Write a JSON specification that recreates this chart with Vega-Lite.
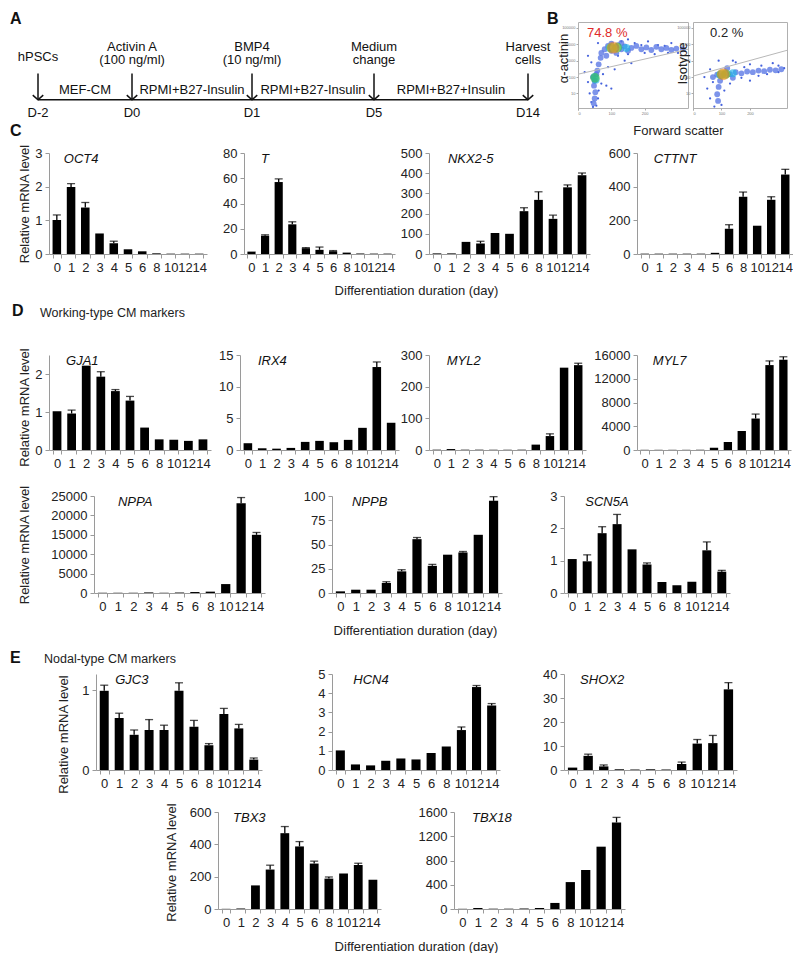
{
"$schema":"https://vega.github.io/schema/vega-lite/v6.json",
"autosize":{"type":"pad"},
"padding":{"left":10,"top":10,"right":0,"bottom":0},
"background":"white",
"config":{
 "font":"Liberation Sans",
 "numberFormat":"d",
 "view":{"stroke":null},
 "axis":{"grid":false,"domainColor":"#9a9a9a","tickColor":"#9a9a9a","tickSize":4,"labelFont":"Liberation Sans","labelFontSize":13,"labelColor":"#222","titleFont":"Liberation Sans","titleFontSize":13,"titleFontWeight":"normal","titleColor":"#222"},
 "axisX":{"labelAngle":0,"labelPadding":3,"tickBand":"extent","labelOverlap":false,"labelBound":false},
 "axisY":{"labelPadding":3,"labelOverlap":false,"titleAngle":270,"titleAlign":"center","titleBaseline":"middle"},
 "title":{"font":"Liberation Sans","fontWeight":"normal","fontSize":13,"color":"#222","anchor":"start","frame":"group"}
},
"datasets":{
 "timeline":[
  {"day":-2,"label":"D-2","agent":"hPSCs"},
  {"day":0,"label":"D0","agent":"Activin A","dose":"(100 ng/ml)"},
  {"day":1,"label":"D1","agent":"BMP4","dose":"(10 ng/ml)"},
  {"day":5,"label":"D5","agent":"Medium","dose":"change"},
  {"day":14,"label":"D14","agent":"Harvest","dose":"cells"}
 ],
 "media":[
  {"day":-1,"medium":"MEF-CM"},
  {"day":0.5,"medium":"RPMI+B27-Insulin"},
  {"day":3,"medium":"RPMI+B27-Insulin"},
  {"day":9.5,"medium":"RPMI+B27+Insulin"}
 ],
 "gates":[
  {"sample":"actinin","fsc_start":0,"sig_start":150,"fsc_end":330,"sig_end":5000,"percent":"74.8 %"},
  {"sample":"isotype","fsc_start":0,"sig_start":115,"fsc_end":330,"sig_end":4300,"percent":"0.2 %"}
 ],
 "facs":[
  {"sample":"actinin","fsc":70,"signal":3000,"level":1},{"sample":"actinin","fsc":80,"signal":5000,"level":1},{"sample":"actinin","fsc":90,"signal":8000,"level":1},{"sample":"actinin","fsc":100,"signal":4000,"level":1},{"sample":"actinin","fsc":110,"signal":6500,"level":1},{"sample":"actinin","fsc":120,"signal":9000,"level":1},{"sample":"actinin","fsc":130,"signal":5000,"level":1},{"sample":"actinin","fsc":140,"signal":7500,"level":1},{"sample":"actinin","fsc":150,"signal":4000,"level":1},{"sample":"actinin","fsc":160,"signal":6000,"level":1},{"sample":"actinin","fsc":175,"signal":8000,"level":1},{"sample":"actinin","fsc":190,"signal":5000,"level":1},{"sample":"actinin","fsc":205,"signal":6500,"level":1},{"sample":"actinin","fsc":220,"signal":4500,"level":1},{"sample":"actinin","fsc":235,"signal":7000,"level":1},{"sample":"actinin","fsc":250,"signal":5000,"level":1},{"sample":"actinin","fsc":265,"signal":6000,"level":1},{"sample":"actinin","fsc":280,"signal":4500,"level":1},{"sample":"actinin","fsc":295,"signal":5500,"level":1},{"sample":"actinin","fsc":315,"signal":5000,"level":1},{"sample":"actinin","fsc":100,"signal":11000,"level":1},{"sample":"actinin","fsc":130,"signal":12000,"level":1},{"sample":"actinin","fsc":85,"signal":2000,"level":1},{"sample":"actinin","fsc":115,"signal":3000,"level":1},
  {"sample":"actinin","fsc":45,"signal":100,"level":1},{"sample":"actinin","fsc":55,"signal":150,"level":1},{"sample":"actinin","fsc":50,"signal":60,"level":1},{"sample":"actinin","fsc":58,"signal":250,"level":1},{"sample":"actinin","fsc":48,"signal":30,"level":1},{"sample":"actinin","fsc":52,"signal":12,"level":1},{"sample":"actinin","fsc":50,"signal":5,"level":1},{"sample":"actinin","fsc":47,"signal":2.5,"level":1},{"sample":"actinin","fsc":62,"signal":600,"level":1},{"sample":"actinin","fsc":68,"signal":1500,"level":1},
  {"sample":"actinin","fsc":95,"signal":6000,"level":2},{"sample":"actinin","fsc":120,"signal":6500,"level":2},{"sample":"actinin","fsc":145,"signal":6000,"level":2},{"sample":"actinin","fsc":50,"signal":100,"level":2},{"sample":"actinin","fsc":53,"signal":70,"level":2},
  {"sample":"actinin","fsc":100,"signal":6000,"level":3},{"sample":"actinin","fsc":118,"signal":6300,"level":3},{"sample":"actinin","fsc":51,"signal":90,"level":3},
  {"sample":"actinin","fsc":102,"signal":6100,"level":4},{"sample":"actinin","fsc":112,"signal":6200,"level":4},
  {"sample":"actinin","fsc":106,"signal":6200,"level":5},
  {"sample":"actinin","fsc":150,"signal":2500,"level":0},{"sample":"actinin","fsc":200,"signal":3000,"level":0},{"sample":"actinin","fsc":240,"signal":9000,"level":0},{"sample":"actinin","fsc":280,"signal":12000,"level":0},{"sample":"actinin","fsc":300,"signal":3000,"level":0},{"sample":"actinin","fsc":170,"signal":12000,"level":0},{"sample":"actinin","fsc":210,"signal":15000,"level":0},{"sample":"actinin","fsc":130,"signal":15000,"level":0},{"sample":"actinin","fsc":30,"signal":2000,"level":0},{"sample":"actinin","fsc":40,"signal":800,"level":0},{"sample":"actinin","fsc":90,"signal":400,"level":0},{"sample":"actinin","fsc":110,"signal":300,"level":0},{"sample":"actinin","fsc":75,"signal":150,"level":0},{"sample":"actinin","fsc":30,"signal":50,"level":0},{"sample":"actinin","fsc":35,"signal":10,"level":0},{"sample":"actinin","fsc":60,"signal":5,"level":0},{"sample":"actinin","fsc":62,"signal":15,"level":0},{"sample":"actinin","fsc":40,"signal":3,"level":0},{"sample":"actinin","fsc":55,"signal":1.8,"level":0},{"sample":"actinin","fsc":140,"signal":1000,"level":0},{"sample":"actinin","fsc":160,"signal":700,"level":0},{"sample":"actinin","fsc":120,"signal":2000,"level":0},{"sample":"actinin","fsc":260,"signal":8000,"level":0},{"sample":"actinin","fsc":230,"signal":2500,"level":0},{"sample":"actinin","fsc":310,"signal":6000,"level":0},{"sample":"actinin","fsc":20,"signal":200,"level":0},{"sample":"actinin","fsc":85,"signal":30,"level":0},{"sample":"actinin","fsc":45,"signal":1.5,"level":0},{"sample":"actinin","fsc":70,"signal":40,"level":0},{"sample":"actinin","fsc":100,"signal":20,"level":0},{"sample":"actinin","fsc":320,"signal":4000,"level":0},{"sample":"actinin","fsc":270,"signal":3000,"level":0},{"sample":"actinin","fsc":190,"signal":9000,"level":0},{"sample":"actinin","fsc":150,"signal":20000,"level":0},{"sample":"actinin","fsc":60,"signal":12000,"level":0},
  {"sample":"isotype","fsc":70,"signal":100,"level":1},{"sample":"isotype","fsc":85,"signal":140,"level":1},{"sample":"isotype","fsc":100,"signal":120,"level":1},{"sample":"isotype","fsc":115,"signal":170,"level":1},{"sample":"isotype","fsc":130,"signal":150,"level":1},{"sample":"isotype","fsc":150,"signal":200,"level":1},{"sample":"isotype","fsc":170,"signal":170,"level":1},{"sample":"isotype","fsc":190,"signal":220,"level":1},{"sample":"isotype","fsc":210,"signal":200,"level":1},{"sample":"isotype","fsc":230,"signal":250,"level":1},{"sample":"isotype","fsc":250,"signal":230,"level":1},{"sample":"isotype","fsc":270,"signal":280,"level":1},{"sample":"isotype","fsc":290,"signal":260,"level":1},{"sample":"isotype","fsc":310,"signal":300,"level":1},{"sample":"isotype","fsc":95,"signal":60,"level":1},{"sample":"isotype","fsc":90,"signal":25,"level":1},{"sample":"isotype","fsc":85,"signal":9,"level":1},{"sample":"isotype","fsc":88,"signal":3.5,"level":1},{"sample":"isotype","fsc":120,"signal":350,"level":1},{"sample":"isotype","fsc":140,"signal":90,"level":1},
  {"sample":"isotype","fsc":95,"signal":140,"level":2},{"sample":"isotype","fsc":115,"signal":150,"level":2},{"sample":"isotype","fsc":140,"signal":170,"level":2},
  {"sample":"isotype","fsc":100,"signal":145,"level":3},{"sample":"isotype","fsc":115,"signal":150,"level":3},
  {"sample":"isotype","fsc":103,"signal":148,"level":4},{"sample":"isotype","fsc":110,"signal":150,"level":4},
  {"sample":"isotype","fsc":106,"signal":150,"level":5},
  {"sample":"isotype","fsc":200,"signal":600,"level":0},{"sample":"isotype","fsc":240,"signal":500,"level":0},{"sample":"isotype","fsc":280,"signal":700,"level":0},{"sample":"isotype","fsc":300,"signal":200,"level":0},{"sample":"isotype","fsc":320,"signal":350,"level":0},{"sample":"isotype","fsc":150,"signal":800,"level":0},{"sample":"isotype","fsc":60,"signal":300,"level":0},{"sample":"isotype","fsc":40,"signal":100,"level":0},{"sample":"isotype","fsc":70,"signal":50,"level":0},{"sample":"isotype","fsc":60,"signal":5,"level":0},{"sample":"isotype","fsc":100,"signal":2,"level":0},{"sample":"isotype","fsc":110,"signal":15,"level":0},{"sample":"isotype","fsc":130,"signal":40,"level":0},{"sample":"isotype","fsc":170,"signal":90,"level":0},{"sample":"isotype","fsc":230,"signal":120,"level":0},{"sample":"isotype","fsc":260,"signal":150,"level":0},{"sample":"isotype","fsc":75,"signal":1.6,"level":0},{"sample":"isotype","fsc":140,"signal":1000,"level":0},{"sample":"isotype","fsc":50,"signal":20,"level":0},{"sample":"isotype","fsc":200,"signal":60,"level":0},{"sample":"isotype","fsc":300,"signal":500,"level":0},{"sample":"isotype","fsc":180,"signal":400,"level":0},{"sample":"isotype","fsc":90,"signal":1000,"level":0}
 ],
 "expr":[
  {"gene":"OCT4","day":0,"value":1.01,"upper":1.16},{"gene":"OCT4","day":1,"value":1.99,"upper":2.09},{"gene":"OCT4","day":2,"value":1.38,"upper":1.53},{"gene":"OCT4","day":3,"value":0.61},{"gene":"OCT4","day":4,"value":0.32,"upper":0.38},{"gene":"OCT4","day":5,"value":0.14},{"gene":"OCT4","day":6,"value":0.08},{"gene":"OCT4","day":8,"value":0.02},{"gene":"OCT4","day":10,"value":0.01},{"gene":"OCT4","day":12,"value":0.01},{"gene":"OCT4","day":14,"value":0.01},
  {"gene":"T","day":0,"value":1.9},{"gene":"T","day":1,"value":14.5,"upper":15.2},{"gene":"T","day":2,"value":57,"upper":59.5},{"gene":"T","day":3,"value":23.5,"upper":25.5},{"gene":"T","day":4,"value":4.6,"upper":5.1},{"gene":"T","day":5,"value":3.3,"upper":5.5},{"gene":"T","day":6,"value":2.2,"upper":2.7},{"gene":"T","day":8,"value":1.1},{"gene":"T","day":10,"value":0.4},{"gene":"T","day":12,"value":0.3},{"gene":"T","day":14,"value":0.3},
  {"gene":"NKX2-5","day":0,"value":3},{"gene":"NKX2-5","day":1,"value":3},{"gene":"NKX2-5","day":2,"value":60},{"gene":"NKX2-5","day":3,"value":52,"upper":63},{"gene":"NKX2-5","day":4,"value":104},{"gene":"NKX2-5","day":5,"value":100},{"gene":"NKX2-5","day":6,"value":212,"upper":229},{"gene":"NKX2-5","day":8,"value":268,"upper":308},{"gene":"NKX2-5","day":10,"value":174,"upper":192},{"gene":"NKX2-5","day":12,"value":330,"upper":342},{"gene":"NKX2-5","day":14,"value":390,"upper":401},
  {"gene":"CTTNT","day":0,"value":2},{"gene":"CTTNT","day":1,"value":2},{"gene":"CTTNT","day":2,"value":2},{"gene":"CTTNT","day":3,"value":2},{"gene":"CTTNT","day":4,"value":2},{"gene":"CTTNT","day":5,"value":7},{"gene":"CTTNT","day":6,"value":150,"upper":174},{"gene":"CTTNT","day":8,"value":340,"upper":368},{"gene":"CTTNT","day":10,"value":168},{"gene":"CTTNT","day":12,"value":322,"upper":340},{"gene":"CTTNT","day":14,"value":472,"upper":503},
  {"gene":"GJA1","day":0,"value":1.02},{"gene":"GJA1","day":1,"value":0.96,"upper":1.05},{"gene":"GJA1","day":2,"value":2.22},{"gene":"GJA1","day":3,"value":1.93,"upper":2.06},{"gene":"GJA1","day":4,"value":1.55,"upper":1.59},{"gene":"GJA1","day":5,"value":1.3,"upper":1.41},{"gene":"GJA1","day":6,"value":0.59},{"gene":"GJA1","day":8,"value":0.28},{"gene":"GJA1","day":10,"value":0.27},{"gene":"GJA1","day":12,"value":0.24},{"gene":"GJA1","day":14,"value":0.28},
  {"gene":"IRX4","day":0,"value":1.07},{"gene":"IRX4","day":1,"value":0.27},{"gene":"IRX4","day":2,"value":0.21},{"gene":"IRX4","day":3,"value":0.33},{"gene":"IRX4","day":4,"value":1.28},{"gene":"IRX4","day":5,"value":1.44},{"gene":"IRX4","day":6,"value":1.23},{"gene":"IRX4","day":8,"value":1.6},{"gene":"IRX4","day":10,"value":3.5},{"gene":"IRX4","day":12,"value":13.1,"upper":13.9},{"gene":"IRX4","day":14,"value":4.3},
  {"gene":"MYL2","day":0,"value":1},{"gene":"MYL2","day":1,"value":3},{"gene":"MYL2","day":2,"value":1},{"gene":"MYL2","day":3,"value":1},{"gene":"MYL2","day":4,"value":0.8},{"gene":"MYL2","day":5,"value":0.8},{"gene":"MYL2","day":6,"value":1},{"gene":"MYL2","day":8,"value":17},{"gene":"MYL2","day":10,"value":44,"upper":51},{"gene":"MYL2","day":12,"value":260},{"gene":"MYL2","day":14,"value":268,"upper":274},
  {"gene":"MYL7","day":0,"value":30},{"gene":"MYL7","day":1,"value":30},{"gene":"MYL7","day":2,"value":30},{"gene":"MYL7","day":3,"value":30},{"gene":"MYL7","day":4,"value":40},{"gene":"MYL7","day":5,"value":380},{"gene":"MYL7","day":6,"value":1350},{"gene":"MYL7","day":8,"value":3200},{"gene":"MYL7","day":10,"value":5300,"upper":6050},{"gene":"MYL7","day":12,"value":14300,"upper":15000},{"gene":"MYL7","day":14,"value":15200,"upper":15700},
  {"gene":"NPPA","day":0,"value":60},{"gene":"NPPA","day":1,"value":60},{"gene":"NPPA","day":2,"value":60},{"gene":"NPPA","day":3,"value":150},{"gene":"NPPA","day":4,"value":60},{"gene":"NPPA","day":5,"value":120},{"gene":"NPPA","day":6,"value":250},{"gene":"NPPA","day":8,"value":350},{"gene":"NPPA","day":10,"value":2300},{"gene":"NPPA","day":12,"value":23100,"upper":24600},{"gene":"NPPA","day":14,"value":15000,"upper":15600},
  {"gene":"NPPB","day":0,"value":1.7},{"gene":"NPPB","day":1,"value":3.4},{"gene":"NPPB","day":2,"value":3.4},{"gene":"NPPB","day":3,"value":10.3,"upper":11.6},{"gene":"NPPB","day":4,"value":22.3,"upper":24},{"gene":"NPPB","day":5,"value":55.5,"upper":57.2},{"gene":"NPPB","day":6,"value":28,"upper":29.5},{"gene":"NPPB","day":8,"value":39.5},{"gene":"NPPB","day":10,"value":41.8,"upper":42.8},{"gene":"NPPB","day":12,"value":60},{"gene":"NPPB","day":14,"value":95,"upper":99.3},
  {"gene":"SCN5A","day":0,"value":1.05},{"gene":"SCN5A","day":1,"value":0.98,"upper":1.18},{"gene":"SCN5A","day":2,"value":1.85,"upper":2.05},{"gene":"SCN5A","day":3,"value":2.13,"upper":2.43},{"gene":"SCN5A","day":4,"value":1.35},{"gene":"SCN5A","day":5,"value":0.88,"upper":0.93},{"gene":"SCN5A","day":6,"value":0.34},{"gene":"SCN5A","day":8,"value":0.24},{"gene":"SCN5A","day":10,"value":0.35},{"gene":"SCN5A","day":12,"value":1.32,"upper":1.58},{"gene":"SCN5A","day":14,"value":0.66,"upper":0.7},
  {"gene":"GJC3","day":0,"value":0.99,"upper":1.06},{"gene":"GJC3","day":1,"value":0.65,"upper":0.71},{"gene":"GJC3","day":2,"value":0.44,"upper":0.5},{"gene":"GJC3","day":3,"value":0.5,"upper":0.63},{"gene":"GJC3","day":4,"value":0.5,"upper":0.56},{"gene":"GJC3","day":5,"value":0.99,"upper":1.09},{"gene":"GJC3","day":6,"value":0.54,"upper":0.62},{"gene":"GJC3","day":8,"value":0.31,"upper":0.33},{"gene":"GJC3","day":10,"value":0.7,"upper":0.77},{"gene":"GJC3","day":12,"value":0.52,"upper":0.57},{"gene":"GJC3","day":14,"value":0.13,"upper":0.15},
  {"gene":"HCN4","day":0,"value":1.02},{"gene":"HCN4","day":1,"value":0.29},{"gene":"HCN4","day":2,"value":0.24},{"gene":"HCN4","day":3,"value":0.48},{"gene":"HCN4","day":4,"value":0.6},{"gene":"HCN4","day":5,"value":0.55},{"gene":"HCN4","day":6,"value":0.89},{"gene":"HCN4","day":8,"value":1.23},{"gene":"HCN4","day":10,"value":2.08,"upper":2.24},{"gene":"HCN4","day":12,"value":4.32,"upper":4.4},{"gene":"HCN4","day":14,"value":3.36,"upper":3.46},
  {"gene":"SHOX2","day":0,"value":1},{"gene":"SHOX2","day":1,"value":5.9,"upper":6.6},{"gene":"SHOX2","day":2,"value":1.5,"upper":2.1},{"gene":"SHOX2","day":3,"value":0.3},{"gene":"SHOX2","day":4,"value":0.2},{"gene":"SHOX2","day":5,"value":0.3},{"gene":"SHOX2","day":6,"value":0.2},{"gene":"SHOX2","day":8,"value":2.5,"upper":3.3},{"gene":"SHOX2","day":10,"value":11,"upper":12.7},{"gene":"SHOX2","day":12,"value":11.2,"upper":14.4},{"gene":"SHOX2","day":14,"value":33.6,"upper":36.4},
  {"gene":"TBX3","day":0,"value":1},{"gene":"TBX3","day":1,"value":3},{"gene":"TBX3","day":2,"value":146},{"gene":"TBX3","day":3,"value":244,"upper":271},{"gene":"TBX3","day":4,"value":469,"upper":510},{"gene":"TBX3","day":5,"value":387,"upper":417},{"gene":"TBX3","day":6,"value":281,"upper":296},{"gene":"TBX3","day":8,"value":188,"upper":198},{"gene":"TBX3","day":10,"value":219},{"gene":"TBX3","day":12,"value":272,"upper":283},{"gene":"TBX3","day":14,"value":181},
  {"gene":"TBX18","day":0,"value":3},{"gene":"TBX18","day":1,"value":17},{"gene":"TBX18","day":2,"value":5},{"gene":"TBX18","day":3,"value":5},{"gene":"TBX18","day":4,"value":8},{"gene":"TBX18","day":5,"value":17},{"gene":"TBX18","day":6,"value":100},{"gene":"TBX18","day":8,"value":444},{"gene":"TBX18","day":10,"value":644},{"gene":"TBX18","day":12,"value":1028},{"gene":"TBX18","day":14,"value":1428,"upper":1511}
 ]
},
"spacing":0,
"vconcat":[
 {"spacing":0,"bounds":"flush","hconcat":[
  {"width":506,"height":91,
   "title":{"text":"A","fontSize":16,"fontWeight":"bold","color":"#111","dx":-28,"offset":-5},
   "data":{"name":"timeline"},
   "layer":[
    {"mark":{"type":"rule","strokeWidth":1.5,"color":"#111"},
     "encoding":{"x":{"aggregate":"min","field":"day","type":"quantitative","scale":{"domain":[-2,0,1,5,14],"range":[0,94,214,336,490],"nice":false,"zero":false},"axis":null},"x2":{"aggregate":"max","field":"day"},"y":{"datum":"line","type":"nominal","scale":{"type":"point","domain":["agent","dose","arrow","medium","line","day"],"padding":0.947,"align":1},"axis":null}}},
    {"mark":{"type":"rule","strokeWidth":1.5,"color":"#111"},
     "encoding":{"x":{"field":"day","type":"quantitative","axis":null},"y":{"datum":"arrow","type":"nominal","axis":null},"y2":{"datum":"line"}}},
    {"mark":{"type":"point","shape":"M-1,-0.9L0,0L1,-0.9","size":110,"filled":false,"strokeWidth":1.5,"color":"#111","opacity":1},
     "encoding":{"x":{"field":"day","type":"quantitative","axis":null},"y":{"datum":"line","type":"nominal","axis":null}}},
    {"transform":[{"filter":"isValid(datum.dose)"}],"mark":{"type":"text","fontSize":13,"color":"#111"},
     "encoding":{"x":{"field":"day","type":"quantitative","axis":null},"y":{"datum":"agent","type":"nominal","axis":null},"text":{"field":"agent"}}},
    {"transform":[{"filter":"isValid(datum.dose)"}],"mark":{"type":"text","fontSize":13,"color":"#111"},
     "encoding":{"x":{"field":"day","type":"quantitative","axis":null},"y":{"datum":"dose","type":"nominal","axis":null},"text":{"field":"dose"}}},
    {"transform":[{"filter":"!isValid(datum.dose)"}],"mark":{"type":"text","fontSize":13,"color":"#111","dy":10},
     "encoding":{"x":{"field":"day","type":"quantitative","axis":null},"y":{"datum":"agent","type":"nominal","axis":null},"text":{"field":"agent"}}},
    {"mark":{"type":"text","fontSize":13,"color":"#111"},
     "encoding":{"x":{"field":"day","type":"quantitative","axis":null},"y":{"datum":"day","type":"nominal","axis":null},"text":{"field":"label"}}},
    {"data":{"name":"media"},"mark":{"type":"text","fontSize":13,"color":"#111","dy":3},
     "encoding":{"x":{"field":"day","type":"quantitative","axis":null},"y":{"datum":"medium","type":"nominal","axis":null},"text":{"field":"medium"}}}
   ]},
  {"width":34,"height":120.5,"data":{"values":[]},"mark":"point","encoding":{},
   "title":{"text":"C","orient":"bottom","fontSize":16,"fontWeight":"bold","color":"#111","dx":-534,"offset":-19.5}},
  {"width":110,"height":86,"view":{"stroke":"#b0b0b0"},
   "title":{"text":"B","fontSize":16,"fontWeight":"bold","color":"#111","dx":-31,"offset":-4.5},
   "layer":[
    {"data":{"name":"facs"},"transform":[{"filter":"datum.sample==='actinin'"}],"mark":{"type":"circle"},
     "encoding":{
      "x":{"field":"fsc","type":"quantitative","scale":{"domain":[0,330],"nice":false,"zero":false},"axis":{"values":[0,50,100,150,200,250],"title":"Forward scatter","titleX":100,"titleY":22,"titleAlign":"center","titleBaseline":"middle","domain":false,"tickSize":2,"labelFontSize":4,"labelColor":"#777","labelPadding":1,"tickColor":"#aaa"}},
      "y":{"field":"signal","type":"quantitative","scale":{"type":"log","domain":[1.3,230000],"nice":false},"axis":{"values":[10,100,1000,10000,100000],"title":"α-actinin","titleX":-15,"titleY":36,"domain":false,"tickSize":2,"labelFontSize":4,"labelColor":"#777","labelPadding":1,"tickColor":"#aaa"}},
      "color":{"field":"level","type":"ordinal","scale":{"domain":[0,1,2,3,4,5],"range":["#3050d8","#5876e4","#25b4e6","#3dc23a","#f0df2a","#e6361e"]},"legend":null},
      "size":{"field":"level","type":"ordinal","scale":{"domain":[0,1,2,3,4,5],"range":[5,150,220,160,90,40]},"legend":null},
      "opacity":{"field":"level","type":"ordinal","scale":{"domain":[0,1,2,3,4,5],"range":[0.9,0.3,0.75,0.85,0.95,1]},"legend":null},
      "order":{"field":"level","type":"quantitative"}}},
    {"data":{"name":"gates"},"transform":[{"filter":"datum.sample==='actinin'"}],"mark":{"type":"rule","color":"#b8b8b8","strokeWidth":1},
     "encoding":{"x":{"field":"fsc_start","type":"quantitative"},"y":{"field":"sig_start","type":"quantitative"},"x2":{"field":"fsc_end"},"y2":{"field":"sig_end"}}},
    {"data":{"name":"gates"},"transform":[{"filter":"datum.sample==='actinin'"}],"mark":{"type":"text","align":"left","fontSize":13,"color":"#e02a2a"},
     "encoding":{"x":{"datum":27},"y":{"datum":48000},"text":{"field":"percent"}}}
   ]},
  {"width":5,"height":1,"data":{"values":[]},"mark":"point","encoding":{}},
  {"width":94,"height":86,"view":{"stroke":"#b0b0b0"},
   "layer":[
    {"data":{"name":"facs"},"transform":[{"filter":"datum.sample==='isotype'"}],"mark":{"type":"circle"},
     "encoding":{
      "x":{"field":"fsc","type":"quantitative","scale":{"domain":[0,330],"nice":false,"zero":false},"axis":{"values":[0,50,100,150,200,250],"title":null,"domain":false,"tickSize":2,"labelFontSize":4,"labelColor":"#777","labelPadding":1,"tickColor":"#aaa"}},
      "y":{"field":"signal","type":"quantitative","scale":{"type":"log","domain":[1.3,230000],"nice":false},"axis":{"values":[10,100,1000,10000,100000],"title":"Isotype","titleX":-11,"titleY":41,"domain":false,"tickSize":2,"labelFontSize":4,"labelColor":"#777","labelPadding":1,"tickColor":"#aaa"}},
      "color":{"field":"level","type":"ordinal","scale":{"domain":[0,1,2,3,4,5],"range":["#3050d8","#5876e4","#25b4e6","#3dc23a","#f0df2a","#e6361e"]},"legend":null},
      "size":{"field":"level","type":"ordinal","scale":{"domain":[0,1,2,3,4,5],"range":[5,150,220,160,90,40]},"legend":null},
      "opacity":{"field":"level","type":"ordinal","scale":{"domain":[0,1,2,3,4,5],"range":[0.9,0.3,0.75,0.85,0.95,1]},"legend":null},
      "order":{"field":"level","type":"quantitative"}}},
    {"data":{"name":"gates"},"transform":[{"filter":"datum.sample==='isotype'"}],"mark":{"type":"rule","color":"#b8b8b8","strokeWidth":1},
     "encoding":{"x":{"field":"fsc_start","type":"quantitative"},"y":{"field":"sig_start","type":"quantitative"},"x2":{"field":"fsc_end"},"y2":{"field":"sig_end"}}},
    {"data":{"name":"gates"},"transform":[{"filter":"datum.sample==='isotype'"}],"mark":{"type":"text","align":"left","fontSize":13,"color":"#222"},
     "encoding":{"x":{"datum":60},"y":{"datum":48000},"text":{"field":"percent"}}}
   ]}
 ]},

 {"spacing":0,"bounds":"flush","hconcat":[
  {"width":11,"height":148.5,"data":{"values":[]},"mark":"point","encoding":{}},
  {"width":158,"height":101,"data":{"name":"expr"},"transform":[{"filter":"datum.gene==='OCT4'"}],"encoding":{"x":{"field":"day","type":"ordinal","scale":{"domain":[0,1,2,3,4,5,6,8,10,12,14],"paddingInner":0.4,"paddingOuter":0.25},"axis":{"title":null}},"y":{"field":"value","type":"quantitative","scale":{"domain":[0,3],"nice":false},"axis":{"values":[0,1,2,3],"title":"Relative mRNA level","titleX":-25,"titleY":50.5}}},"layer":[{"mark":{"type":"bar","color":"#000"}},{"transform":[{"filter":"isValid(datum.upper)"}],"mark":{"type":"rule","color":"#000","strokeWidth":1.3},"encoding":{"y2":{"field":"upper"}}},{"transform":[{"filter":"isValid(datum.upper)"}],"mark":{"type":"tick","color":"#000","thickness":1.3,"size":8},"encoding":{"y":{"field":"upper","type":"quantitative"}}},{"transform":[{"filter":"datum.day===0"}],"mark":{"type":"text","align":"left","baseline":"top","dx":7,"fontStyle":"italic","fontSize":13,"color":"#111"},"encoding":{"y":{"datum":3},"text":{"field":"gene"}}}]},
  {"width":37,"height":1,"data":{"values":[]},"mark":"point","encoding":{}},
  {"width":151,"height":101,"data":{"name":"expr"},"transform":[{"filter":"datum.gene==='T'"}],"encoding":{"x":{"field":"day","type":"ordinal","scale":{"domain":[0,1,2,3,4,5,6,8,10,12,14],"paddingInner":0.4,"paddingOuter":0.25},"axis":{"title":"Differentiation duration (day)","titleX":172,"titleY":36,"titleAlign":"center","titleBaseline":"middle"}},"y":{"field":"value","type":"quantitative","scale":{"domain":[0,80],"nice":false},"axis":{"values":[0,20,40,60,80],"title":null}}},"layer":[{"mark":{"type":"bar","color":"#000"}},{"transform":[{"filter":"isValid(datum.upper)"}],"mark":{"type":"rule","color":"#000","strokeWidth":1.3},"encoding":{"y2":{"field":"upper"}}},{"transform":[{"filter":"isValid(datum.upper)"}],"mark":{"type":"tick","color":"#000","thickness":1.3,"size":8},"encoding":{"y":{"field":"upper","type":"quantitative"}}},{"transform":[{"filter":"datum.day===0"}],"mark":{"type":"text","align":"left","baseline":"top","dx":9.5,"fontStyle":"italic","fontSize":13,"color":"#111"},"encoding":{"y":{"datum":80},"text":{"field":"gene"}}}]},
  {"width":34,"height":1,"data":{"values":[]},"mark":"point","encoding":{}},
  {"width":161,"height":101,"data":{"name":"expr"},"transform":[{"filter":"datum.gene==='NKX2-5'"}],"encoding":{"x":{"field":"day","type":"ordinal","scale":{"domain":[0,1,2,3,4,5,6,8,10,12,14],"paddingInner":0.4,"paddingOuter":0.25},"axis":{"title":null}},"y":{"field":"value","type":"quantitative","scale":{"domain":[0,500],"nice":false},"axis":{"values":[0,100,200,300,400,500],"title":null}}},"layer":[{"mark":{"type":"bar","color":"#000"}},{"transform":[{"filter":"isValid(datum.upper)"}],"mark":{"type":"rule","color":"#000","strokeWidth":1.3},"encoding":{"y2":{"field":"upper"}}},{"transform":[{"filter":"isValid(datum.upper)"}],"mark":{"type":"tick","color":"#000","thickness":1.3,"size":8},"encoding":{"y":{"field":"upper","type":"quantitative"}}},{"transform":[{"filter":"datum.day===0"}],"mark":{"type":"text","align":"left","baseline":"top","dx":11,"fontStyle":"italic","fontSize":13,"color":"#111"},"encoding":{"y":{"datum":500},"text":{"field":"gene"}}}]},
  {"width":47,"height":1,"data":{"values":[]},"mark":"point","encoding":{}},
  {"width":156,"height":101,"data":{"name":"expr"},"transform":[{"filter":"datum.gene==='CTTNT'"}],"encoding":{"x":{"field":"day","type":"ordinal","scale":{"domain":[0,1,2,3,4,5,6,8,10,12,14],"paddingInner":0.4,"paddingOuter":0.25},"axis":{"title":null}},"y":{"field":"value","type":"quantitative","scale":{"domain":[0,600],"nice":false},"axis":{"values":[0,200,400,600],"title":null}}},"layer":[{"mark":{"type":"bar","color":"#000"}},{"transform":[{"filter":"isValid(datum.upper)"}],"mark":{"type":"rule","color":"#000","strokeWidth":1.3},"encoding":{"y2":{"field":"upper"}}},{"transform":[{"filter":"isValid(datum.upper)"}],"mark":{"type":"tick","color":"#000","thickness":1.3,"size":8},"encoding":{"y":{"field":"upper","type":"quantitative"}}},{"transform":[{"filter":"datum.day===0"}],"mark":{"type":"text","align":"left","baseline":"top","dx":9,"fontStyle":"italic","fontSize":13,"color":"#111"},"encoding":{"y":{"datum":600},"text":{"field":"gene"}}}]}
 ]},

 {"spacing":0,"bounds":"flush","hconcat":[
  {"width":11,"height":129,"data":{"values":[]},"mark":"point","encoding":{},
   "title":{"text":"D","fontSize":16,"fontWeight":"bold","color":"#111","dx":-26,"offset":36.5}},
  {"width":162,"height":95,"title":{"text":"Working-type CM markers","fontSize":12.5,"dx":-9,"offset":27.5},"data":{"name":"expr"},"transform":[{"filter":"datum.gene==='GJA1'"}],"encoding":{"x":{"field":"day","type":"ordinal","scale":{"domain":[0,1,2,3,4,5,6,8,10,12,14],"paddingInner":0.4,"paddingOuter":0.25},"axis":{"title":null}},"y":{"field":"value","type":"quantitative","scale":{"domain":[0,2.5],"nice":false},"axis":{"values":[0,1,2],"title":"Relative mRNA level","titleX":-25,"titleY":52}}},"layer":[{"mark":{"type":"bar","color":"#000"}},{"transform":[{"filter":"isValid(datum.upper)"}],"mark":{"type":"rule","color":"#000","strokeWidth":1.3},"encoding":{"y2":{"field":"upper"}}},{"transform":[{"filter":"isValid(datum.upper)"}],"mark":{"type":"tick","color":"#000","thickness":1.3,"size":8},"encoding":{"y":{"field":"upper","type":"quantitative"}}},{"transform":[{"filter":"datum.day===0"}],"mark":{"type":"text","align":"left","baseline":"top","dx":9,"fontStyle":"italic","fontSize":13,"color":"#111"},"encoding":{"y":{"datum":2.5},"text":{"field":"gene"}}}]},
  {"width":29,"height":1,"data":{"values":[]},"mark":"point","encoding":{}},
  {"width":159,"height":95,"data":{"name":"expr"},"transform":[{"filter":"datum.gene==='IRX4'"}],"encoding":{"x":{"field":"day","type":"ordinal","scale":{"domain":[0,1,2,3,4,5,6,8,10,12,14],"paddingInner":0.4,"paddingOuter":0.25},"axis":{"title":null}},"y":{"field":"value","type":"quantitative","scale":{"domain":[0,15],"nice":false},"axis":{"values":[0,5,10,15],"title":null}}},"layer":[{"mark":{"type":"bar","color":"#000"}},{"transform":[{"filter":"isValid(datum.upper)"}],"mark":{"type":"rule","color":"#000","strokeWidth":1.3},"encoding":{"y2":{"field":"upper"}}},{"transform":[{"filter":"isValid(datum.upper)"}],"mark":{"type":"tick","color":"#000","thickness":1.3,"size":8},"encoding":{"y":{"field":"upper","type":"quantitative"}}},{"transform":[{"filter":"datum.day===0"}],"mark":{"type":"text","align":"left","baseline":"top","dx":10,"fontStyle":"italic","fontSize":13,"color":"#111"},"encoding":{"y":{"datum":15},"text":{"field":"gene"}}}]},
  {"width":30,"height":1,"data":{"values":[]},"mark":"point","encoding":{}},
  {"width":157,"height":95,"data":{"name":"expr"},"transform":[{"filter":"datum.gene==='MYL2'"}],"encoding":{"x":{"field":"day","type":"ordinal","scale":{"domain":[0,1,2,3,4,5,6,8,10,12,14],"paddingInner":0.4,"paddingOuter":0.25},"axis":{"title":null}},"y":{"field":"value","type":"quantitative","scale":{"domain":[0,300],"nice":false},"axis":{"values":[0,100,200,300],"title":null}}},"layer":[{"mark":{"type":"bar","color":"#000"}},{"transform":[{"filter":"isValid(datum.upper)"}],"mark":{"type":"rule","color":"#000","strokeWidth":1.3},"encoding":{"y2":{"field":"upper"}}},{"transform":[{"filter":"isValid(datum.upper)"}],"mark":{"type":"tick","color":"#000","thickness":1.3,"size":8},"encoding":{"y":{"field":"upper","type":"quantitative"}}},{"transform":[{"filter":"datum.day===0"}],"mark":{"type":"text","align":"left","baseline":"top","dx":10,"fontStyle":"italic","fontSize":13,"color":"#111"},"encoding":{"y":{"datum":300},"text":{"field":"gene"}}}]},
  {"width":51,"height":1,"data":{"values":[]},"mark":"point","encoding":{}},
  {"width":154,"height":95,"data":{"name":"expr"},"transform":[{"filter":"datum.gene==='MYL7'"}],"encoding":{"x":{"field":"day","type":"ordinal","scale":{"domain":[0,1,2,3,4,5,6,8,10,12,14],"paddingInner":0.4,"paddingOuter":0.25},"axis":{"title":null}},"y":{"field":"value","type":"quantitative","scale":{"domain":[0,16000],"nice":false},"axis":{"values":[0,4000,8000,12000,16000],"title":null}}},"layer":[{"mark":{"type":"bar","color":"#000"}},{"transform":[{"filter":"isValid(datum.upper)"}],"mark":{"type":"rule","color":"#000","strokeWidth":1.3},"encoding":{"y2":{"field":"upper"}}},{"transform":[{"filter":"isValid(datum.upper)"}],"mark":{"type":"tick","color":"#000","thickness":1.3,"size":8},"encoding":{"y":{"field":"upper","type":"quantitative"}}},{"transform":[{"filter":"datum.day===0"}],"mark":{"type":"text","align":"left","baseline":"top","dx":8,"fontStyle":"italic","fontSize":13,"color":"#111"},"encoding":{"y":{"datum":16000},"text":{"field":"gene"}}}]}
 ]},

 {"spacing":0,"bounds":"flush","hconcat":[
  {"width":56,"height":154,"data":{"values":[]},"mark":"point","encoding":{}},
  {"width":171,"height":97,"data":{"name":"expr"},"transform":[{"filter":"datum.gene==='NPPA'"}],"encoding":{"x":{"field":"day","type":"ordinal","scale":{"domain":[0,1,2,3,4,5,6,8,10,12,14],"paddingInner":0.4,"paddingOuter":0.25},"axis":{"title":null}},"y":{"field":"value","type":"quantitative","scale":{"domain":[0,25000],"nice":false},"axis":{"values":[0,5000,10000,15000,20000,25000],"title":"Relative mRNA level","titleX":-70,"titleY":48.5}}},"layer":[{"mark":{"type":"bar","color":"#000"}},{"transform":[{"filter":"isValid(datum.upper)"}],"mark":{"type":"rule","color":"#000","strokeWidth":1.3},"encoding":{"y2":{"field":"upper"}}},{"transform":[{"filter":"isValid(datum.upper)"}],"mark":{"type":"tick","color":"#000","thickness":1.3,"size":8},"encoding":{"y":{"field":"upper","type":"quantitative"}}},{"transform":[{"filter":"datum.day===0"}],"mark":{"type":"text","align":"left","baseline":"top","dx":15.5,"fontStyle":"italic","fontSize":13,"color":"#111"},"encoding":{"y":{"datum":25000},"text":{"field":"gene"}}}]},
  {"width":67,"height":1,"data":{"values":[]},"mark":"point","encoding":{}},
  {"width":170,"height":97,"data":{"name":"expr"},"transform":[{"filter":"datum.gene==='NPPB'"}],"encoding":{"x":{"field":"day","type":"ordinal","scale":{"domain":[0,1,2,3,4,5,6,8,10,12,14],"paddingInner":0.4,"paddingOuter":0.25},"axis":{"title":"Differentiation duration (day)","titleX":83,"titleY":37,"titleAlign":"center","titleBaseline":"middle"}},"y":{"field":"value","type":"quantitative","scale":{"domain":[0,100],"nice":false},"axis":{"values":[0,25,50,75,100],"title":null}}},"layer":[{"mark":{"type":"bar","color":"#000"}},{"transform":[{"filter":"isValid(datum.upper)"}],"mark":{"type":"rule","color":"#000","strokeWidth":1.3},"encoding":{"y2":{"field":"upper"}}},{"transform":[{"filter":"isValid(datum.upper)"}],"mark":{"type":"tick","color":"#000","thickness":1.3,"size":8},"encoding":{"y":{"field":"upper","type":"quantitative"}}},{"transform":[{"filter":"datum.day===0"}],"mark":{"type":"text","align":"left","baseline":"top","dx":11.5,"fontStyle":"italic","fontSize":13,"color":"#111"},"encoding":{"y":{"datum":100},"text":{"field":"gene"}}}]},
  {"width":62,"height":1,"data":{"values":[]},"mark":"point","encoding":{}},
  {"width":166,"height":97,"data":{"name":"expr"},"transform":[{"filter":"datum.gene==='SCN5A'"}],"encoding":{"x":{"field":"day","type":"ordinal","scale":{"domain":[0,1,2,3,4,5,6,8,10,12,14],"paddingInner":0.4,"paddingOuter":0.25},"axis":{"title":null}},"y":{"field":"value","type":"quantitative","scale":{"domain":[0,3],"nice":false},"axis":{"values":[0,1,2,3],"title":null}}},"layer":[{"mark":{"type":"bar","color":"#000"}},{"transform":[{"filter":"isValid(datum.upper)"}],"mark":{"type":"rule","color":"#000","strokeWidth":1.3},"encoding":{"y2":{"field":"upper"}}},{"transform":[{"filter":"isValid(datum.upper)"}],"mark":{"type":"tick","color":"#000","thickness":1.3,"size":8},"encoding":{"y":{"field":"upper","type":"quantitative"}}},{"transform":[{"filter":"datum.day===0"}],"mark":{"type":"text","align":"left","baseline":"top","dx":13,"fontStyle":"italic","fontSize":13,"color":"#111"},"encoding":{"y":{"datum":3},"text":{"field":"gene"}}}]}
 ]},

 {"spacing":0,"bounds":"flush","hconcat":[
  {"width":58,"height":128,"data":{"values":[]},"mark":"point","encoding":{},
   "title":{"text":"E","fontSize":16,"fontWeight":"bold","color":"#111","dx":-28,"offset":8}},
  {"width":166,"height":96,"title":{"text":"Nodal-type CM markers","fontSize":12.5,"dx":-52,"offset":8.5},"data":{"name":"expr"},"transform":[{"filter":"datum.gene==='GJC3'"}],"encoding":{"x":{"field":"day","type":"ordinal","scale":{"domain":[0,1,2,3,4,5,6,8,10,12,14],"paddingInner":0.4,"paddingOuter":0.25},"axis":{"title":null}},"y":{"field":"value","type":"quantitative","scale":{"domain":[0,1.2],"nice":false},"axis":{"values":[0,1],"title":"Relative mRNA level","titleX":-33,"titleY":60}}},"layer":[{"mark":{"type":"bar","color":"#000"}},{"transform":[{"filter":"isValid(datum.upper)"}],"mark":{"type":"rule","color":"#000","strokeWidth":1.3},"encoding":{"y2":{"field":"upper"}}},{"transform":[{"filter":"isValid(datum.upper)"}],"mark":{"type":"tick","color":"#000","thickness":1.3,"size":8},"encoding":{"y":{"field":"upper","type":"quantitative"}}},{"transform":[{"filter":"datum.day===0"}],"mark":{"type":"text","align":"left","baseline":"top","dx":11,"fontStyle":"italic","fontSize":13,"color":"#111"},"encoding":{"y":{"datum":1.2},"text":{"field":"gene"}}}]},
  {"width":70,"height":1,"data":{"values":[]},"mark":"point","encoding":{}},
  {"width":168,"height":96,"data":{"name":"expr"},"transform":[{"filter":"datum.gene==='HCN4'"}],"encoding":{"x":{"field":"day","type":"ordinal","scale":{"domain":[0,1,2,3,4,5,6,8,10,12,14],"paddingInner":0.4,"paddingOuter":0.25},"axis":{"title":null}},"y":{"field":"value","type":"quantitative","scale":{"domain":[0,5],"nice":false},"axis":{"values":[0,1,2,3,4,5],"title":null}}},"layer":[{"mark":{"type":"bar","color":"#000"}},{"transform":[{"filter":"isValid(datum.upper)"}],"mark":{"type":"rule","color":"#000","strokeWidth":1.3},"encoding":{"y2":{"field":"upper"}}},{"transform":[{"filter":"isValid(datum.upper)"}],"mark":{"type":"tick","color":"#000","thickness":1.3,"size":8},"encoding":{"y":{"field":"upper","type":"quantitative"}}},{"transform":[{"filter":"datum.day===0"}],"mark":{"type":"text","align":"left","baseline":"top","dx":13,"fontStyle":"italic","fontSize":13,"color":"#111"},"encoding":{"y":{"datum":5},"text":{"field":"gene"}}}]},
  {"width":64,"height":1,"data":{"values":[]},"mark":"point","encoding":{}},
  {"width":173,"height":96,"data":{"name":"expr"},"transform":[{"filter":"datum.gene==='SHOX2'"}],"encoding":{"x":{"field":"day","type":"ordinal","scale":{"domain":[0,1,2,3,4,5,6,8,10,12,14],"paddingInner":0.4,"paddingOuter":0.25},"axis":{"title":null}},"y":{"field":"value","type":"quantitative","scale":{"domain":[0,40],"nice":false},"axis":{"values":[0,10,20,30,40],"title":null}}},"layer":[{"mark":{"type":"bar","color":"#000"}},{"transform":[{"filter":"isValid(datum.upper)"}],"mark":{"type":"rule","color":"#000","strokeWidth":1.3},"encoding":{"y2":{"field":"upper"}}},{"transform":[{"filter":"isValid(datum.upper)"}],"mark":{"type":"tick","color":"#000","thickness":1.3,"size":8},"encoding":{"y":{"field":"upper","type":"quantitative"}}},{"transform":[{"filter":"datum.day===0"}],"mark":{"type":"text","align":"left","baseline":"top","dx":7.5,"fontStyle":"italic","fontSize":13,"color":"#111"},"encoding":{"y":{"datum":40},"text":{"field":"gene"}}}]}
 ]},

 {"spacing":0,"bounds":"flush","hconcat":[
  {"width":180,"height":1,"data":{"values":[]},"mark":"point","encoding":{}},
  {"width":163,"height":97,"data":{"name":"expr"},"transform":[{"filter":"datum.gene==='TBX3'"}],"encoding":{"x":{"field":"day","type":"ordinal","scale":{"domain":[0,1,2,3,4,5,6,8,10,12,14],"paddingInner":0.4,"paddingOuter":0.25},"axis":{"title":"Differentiation duration (day)","titleX":198,"titleY":37,"titleAlign":"center","titleBaseline":"middle"}},"y":{"field":"value","type":"quantitative","scale":{"domain":[0,600],"nice":false},"axis":{"values":[0,200,400,600],"title":"Relative mRNA level","titleX":-47,"titleY":50}}},"layer":[{"mark":{"type":"bar","color":"#000"}},{"transform":[{"filter":"isValid(datum.upper)"}],"mark":{"type":"rule","color":"#000","strokeWidth":1.3},"encoding":{"y2":{"field":"upper"}}},{"transform":[{"filter":"isValid(datum.upper)"}],"mark":{"type":"tick","color":"#000","thickness":1.3,"size":8},"encoding":{"y":{"field":"upper","type":"quantitative"}}},{"transform":[{"filter":"datum.day===0"}],"mark":{"type":"text","align":"left","baseline":"top","dx":7,"fontStyle":"italic","fontSize":13,"color":"#111"},"encoding":{"y":{"datum":600},"text":{"field":"gene"}}}]},
  {"width":73,"height":1,"data":{"values":[]},"mark":"point","encoding":{}},
  {"width":171,"height":97,"data":{"name":"expr"},"transform":[{"filter":"datum.gene==='TBX18'"}],"encoding":{"x":{"field":"day","type":"ordinal","scale":{"domain":[0,1,2,3,4,5,6,8,10,12,14],"paddingInner":0.4,"paddingOuter":0.25},"axis":{"title":null}},"y":{"field":"value","type":"quantitative","scale":{"domain":[0,1600],"nice":false},"axis":{"values":[0,400,800,1200,1600],"title":null}}},"layer":[{"mark":{"type":"bar","color":"#000"}},{"transform":[{"filter":"isValid(datum.upper)"}],"mark":{"type":"rule","color":"#000","strokeWidth":1.3},"encoding":{"y2":{"field":"upper"}}},{"transform":[{"filter":"isValid(datum.upper)"}],"mark":{"type":"tick","color":"#000","thickness":1.3,"size":8},"encoding":{"y":{"field":"upper","type":"quantitative"}}},{"transform":[{"filter":"datum.day===0"}],"mark":{"type":"text","align":"left","baseline":"top","dx":9.5,"fontStyle":"italic","fontSize":13,"color":"#111"},"encoding":{"y":{"datum":1600},"text":{"field":"gene"}}}]}
 ]}
]
}
